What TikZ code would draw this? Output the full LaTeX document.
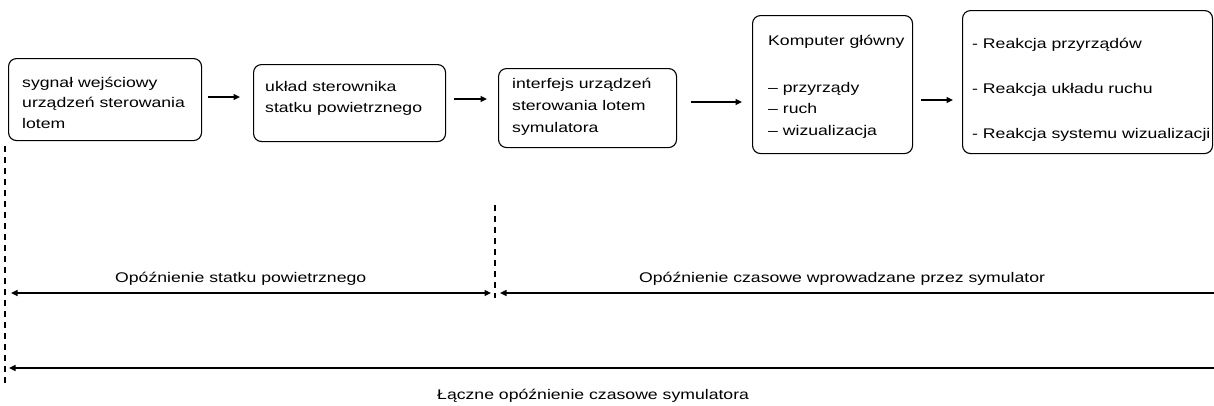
\documentclass[tikz,border=0pt]{standalone}
\usepackage{fontspec}
\setmainfont[FakeStretch=1.26]{Liberation Sans}
\usetikzlibrary{arrows.meta,calc}

\begin{document}
\begin{tikzpicture}[x=1pt,y=-1pt,
  >={Triangle[length=6.5pt,width=6pt]},
  every node/.style={font=\fontsize{14}{21.5}\selectfont},
  box/.style={draw, line width=1.1pt, rounded corners=8pt, inner sep=0pt, anchor=north west},
  txt/.style={inner sep=0pt, anchor=north west, align=left},
  lbl/.style={inner sep=0pt, anchor=base west},
  flow/.style={->, line width=1.3pt},
  span/.style={line width=1.4pt},
  guide/.style={line width=1.2pt, dash pattern=on 6pt off 5pt}
]
\useasboundingbox[fill=white] (0,0) rectangle (1214,405);

% processing chain
\node[box, minimum width=193pt, minimum height=82pt]  (b1) at (8,58)   {};
\node[box, minimum width=192pt, minimum height=77pt]  (b2) at (253,64) {};
\node[box, minimum width=178pt, minimum height=79pt]  (b3) at (498,68) {};
\node[box, minimum width=160pt, minimum height=138pt] (b4) at (752,15) {};
\node[box, minimum width=250pt, minimum height=143pt] (b5) at (962,10) {};

\node[txt] (t1) at ($(b1.north west)+(14,13.8)$)
  {\strut sygnał wejściowy\\[-1pt]urządzeń sterowania\\[-1pt]lotem};
\node[txt] (t2) at ($(b2.north west)+(12,11.8)$)
  {\strut układ sterownika\\statku powietrznego};
\node[txt] (t3) at ($(b3.north west)+(14,4.8)$)
  {\strut interfejs urządzeń\\[1pt]sterowania lotem\\symulatora};
\node[txt] (t4) at ($(b4.north west)+(16,14.8)$)
  {\strut Komputer główny\\[25.5pt]– przyrządy\\– ruch\\– wizualizacja};
\node[txt] (t5) at ($(b5.north west)+(10,22.8)$)
  {\strut - Reakcja przyrządów\\[23.5pt]- Reakcja układu ruchu\\[23.5pt]- Reakcja systemu wizualizacji};

\draw[flow, shorten <=6pt, shorten >=13pt] (b1.east |- 0,97)  -- (b2.west |- 0,97);
\draw[flow, shorten <=8pt, shorten >=11pt] (b2.east |- 0,99)  -- (b3.west |- 0,99);
\draw[flow, shorten <=14pt, shorten >=10pt] (b3.east |- 0,102) -- (b4.west |- 0,102);
\draw[flow, shorten <=8pt, shorten >=9pt] (b4.east |- 0,100) -- (b5.west |- 0,100);

% time markers
\coordinate (g1a) at (5,146);
\coordinate (g1b) at (5,387);
\coordinate (g2a) at (495,205);
\coordinate (g2b) at (495,298);
\draw[guide] (g1a) -- (g1b);
\draw[guide] (g2a) -- (g2b);

% delay spans
\coordinate (s1a) at (11,293);
\coordinate (s1b) at (491,293);
\coordinate (s2a) at (500,293);
\coordinate (s2b) at (1214,293);
\coordinate (s3a) at (9,368);
\coordinate (s3b) at (1214,368);
\draw[span, <->] (s1a) -- (s1b);
\draw[span, <-] (s2a) -- (s2b);
\draw[span, <-] (s3a) -- (s3b);

\node[lbl] (l1) at (115,282) {Opóźnienie statku powietrznego};
\node[lbl] (l2) at (639,282) {Opóźnienie czasowe wprowadzane przez symulator};
\node[lbl] (l3) at (437,399) {Łączne opóźnienie czasowe symulatora};
\end{tikzpicture}
\end{document}
